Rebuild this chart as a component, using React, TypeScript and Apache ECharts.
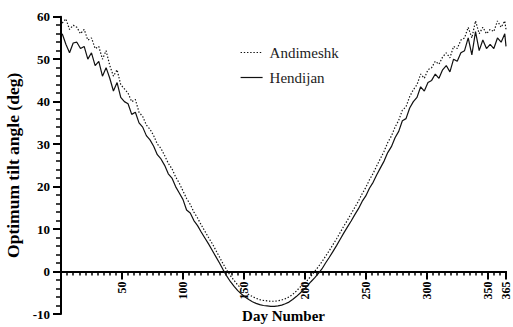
import React, { useEffect, useRef } from "react";
import * as echarts from "echarts";

const days = [
  1, 4, 7, 10, 13, 16, 19, 22, 25, 28, 31, 34, 37, 40, 43, 46, 49, 52, 55, 58,
  61, 64, 67, 70, 73, 76, 79, 82, 85, 88, 91, 94, 97, 100, 103, 106, 109, 112, 115, 118,
  121, 124, 127, 130, 133, 136, 139, 142, 145, 148, 151, 154, 157, 160, 163, 166, 169, 172, 175, 178,
  181, 184, 187, 190, 193, 196, 199, 202, 205, 208, 211, 214, 217, 220, 223, 226, 229, 232, 235, 238,
  241, 244, 247, 250, 253, 256, 259, 262, 265, 268, 271, 274, 277, 280, 283, 286, 289, 292, 295, 298,
  301, 304, 307, 310, 313, 316, 319, 322, 325, 328, 331, 334, 337, 340, 343, 346, 349, 352, 355, 358,
  361, 364, 365,
];

const andimeshk = [
  58.5, 59.5, 57.0, 58.0, 57.5, 56.0, 57.0, 54.5, 55.0, 52.5, 53.0, 50.0, 52.0, 48.5, 46.0, 47.5, 44.0, 43.0, 42.0, 40.0,
  40.5, 37.5, 36.5, 34.5, 33.5, 32.0, 30.0, 29.0, 27.3, 25.5, 24.2, 22.3, 20.8, 19.0, 17.2, 15.8, 14.0, 12.6, 11.0, 9.5,
  8.0, 6.6, 5.0, 3.4, 1.8, 0.3, -1.0, -2.1, -3.2, -4.0, -4.8, -5.4, -5.9, -6.3, -6.6, -6.8, -6.9, -7.0, -7.0, -6.9,
  -6.7, -6.4, -6.0, -5.4, -4.6, -3.7, -3.0, -2.1, -1.1, 0.0, 1.1, 2.3, 3.6, 4.9, 6.3, 7.7, 9.2, 10.7, 12.1, 13.6,
  15.1, 16.6, 18.3, 19.8, 21.6, 23.1, 24.9, 26.6, 28.3, 30.4, 31.9, 34.0, 35.6, 38.0, 38.8, 41.2, 42.8, 44.0, 46.5, 45.5,
  47.5, 48.0, 49.5, 48.8, 50.5, 51.5, 50.3, 53.0, 52.5, 54.5, 55.0, 57.5, 55.0, 59.0, 56.0, 57.5, 56.0, 57.0, 56.5, 59.0,
  57.5, 59.0, 57.0,
];

const hendijan = [
  56.0, 53.5, 51.5, 53.8, 54.0, 52.5, 53.0, 50.0, 51.5, 48.5, 49.5, 46.0, 48.0, 45.5, 42.5, 44.5, 41.0, 40.0, 39.5, 37.0,
  37.5, 35.0, 34.0, 32.0, 31.0, 29.5, 27.5, 26.5, 25.0, 23.0, 22.0, 20.0, 18.5, 17.0, 14.5, 13.8, 12.0, 10.8, 9.3, 7.9,
  6.5, 5.0, 3.5, 2.0, 0.4, -1.1, -2.4, -3.5, -4.5, -5.3, -6.0, -6.6, -7.1, -7.5, -7.8, -8.0, -8.1, -8.2, -8.2, -8.1,
  -7.9, -7.6, -7.2, -6.6, -5.9, -5.1, -4.3, -3.4, -2.4, -1.5, -0.5, 0.6, 2.0, 3.3, 4.7, 6.1, 7.6, 9.1, 10.5, 11.9,
  13.4, 14.8, 16.5, 17.8, 19.6, 21.0, 22.8, 24.4, 26.0, 28.0, 29.4, 31.5, 33.0, 35.5, 36.0, 38.5, 40.0, 41.0, 43.5, 42.5,
  44.5, 45.0, 46.5, 45.5, 47.5, 48.5, 47.0, 50.0, 49.5, 51.5, 52.0, 55.0, 51.0, 56.5, 52.0, 54.5, 52.5, 53.5, 52.5, 55.0,
  54.0, 56.0, 53.0,
];

const seriesNames = ["Andimeshk", "Hendijan"];
const xMin = 0;
const xMax = 365;
const xMajor = 50;
const xMinor = 5;
const yMin = -10;
const yMax = 60;
const yMajor = 10;

const FONT = "Liberation Serif";

export default function App() {
  const ref = useRef<HTMLDivElement>(null);
  useEffect(() => {
    if (!ref.current) return;
    const chart = echarts.init(ref.current, undefined, { renderer: "svg" });
    const pair = (vals: number[]) => days.map((d, i) => [d, vals[i]]);
    const axisColor = "#000";
    const plotTop = 16.7;
    const plotBottom = 13;
    // bottom offset of the zero line: y=0 sits 10/70 of the plot height above the bottom
    const plotH = 327 - plotTop - plotBottom;
    const zeroBottom = plotBottom + (plotH * (0 - yMin)) / (yMax - yMin);
    chart.setOption({
      animation: false,
      backgroundColor: "#fff",
      textStyle: { fontFamily: FONT },
      grid: [
        {
          left: 61,
          right: 7,
          top: plotTop,
          bottom: plotBottom,
          containLabel: false,
          outerBoundsMode: "none",
        },
        {
          left: 61,
          right: 7,
          top: plotTop,
          bottom: zeroBottom,
          containLabel: false,
          outerBoundsMode: "none",
        },
      ],
      legend: {
        orient: "vertical",
        left: 235,
        top: 40,
        itemWidth: 22,
        itemHeight: 10,
        itemGap: 10,
        itemStyle: { opacity: 0 },
        lineStyle: { width: 1.2 },
        textStyle: { fontFamily: FONT, fontSize: 15, color: "#222", padding: [0, 0, 0, 2] },
        data: seriesNames,
      },
      xAxis: [
        {
          type: "value",
          gridIndex: 0,
          min: xMin,
          max: xMax,
          show: false,
        },
        {
          type: "value",
          gridIndex: 1,
          min: xMin,
          max: xMax,
          interval: xMajor,
          position: "bottom",
          axisLine: { onZero: false, lineStyle: { color: axisColor, width: 2 } },
          axisTick: { show: true, length: 8, lineStyle: { color: axisColor, width: 2 } },
          axisLabel: {
            rotate: 90,
            margin: 10,
            fontFamily: FONT,
            fontWeight: "bold",
            fontSize: 12,
            color: "#000",
            formatter: (v: number) => (v === 0 ? "" : String(v)),
          },
          splitLine: { show: false },
          name: "Day Number",
          nameLocation: "middle",
          nameGap: 37,
          nameTextStyle: { fontFamily: FONT, fontWeight: "bold", fontSize: 15, color: "#000" },
        },
        {
          type: "value",
          gridIndex: 1,
          min: xMin,
          max: xMax,
          interval: xMinor,
          position: "bottom",
          axisLine: { onZero: false, lineStyle: { color: axisColor, width: 2 } },
          axisTick: { show: true, length: 4, lineStyle: { color: axisColor, width: 1.5 } },
          axisLabel: { show: false },
          splitLine: { show: false },
        },
      ],
      yAxis: [
        {
          type: "value",
          gridIndex: 0,
          min: yMin,
          max: yMax,
          interval: yMajor,
          axisLine: { show: true, onZero: false, lineStyle: { color: axisColor, width: 2 } },
          axisTick: { show: true, length: 8, lineStyle: { color: axisColor, width: 2 } },
          minorTick: { show: true, splitNumber: 5, length: 5, lineStyle: { color: axisColor, width: 1.5 } },
          axisLabel: {
            margin: 11,
            fontFamily: FONT,
            fontWeight: "bold",
            fontSize: 13,
            color: "#000",
          },
          splitLine: { show: false },
          name: "Optimum tilt angle (deg)",
          nameLocation: "middle",
          nameGap: 36,
          nameTextStyle: { fontFamily: FONT, fontWeight: "bold", fontSize: 17.5, color: "#000" },
        },
        {
          type: "value",
          gridIndex: 1,
          min: 0,
          max: yMax,
          show: false,
        },
      ],
      series: [
        {
          name: seriesNames[0],
          type: "line",
          xAxisIndex: 0,
          yAxisIndex: 0,
          data: pair(andimeshk),
          symbol: "none",
          lineStyle: { color: "#111", width: 1.2, type: [1.4, 1.8] },
          itemStyle: { color: "#111" },
        },
        {
          name: seriesNames[1],
          type: "line",
          xAxisIndex: 0,
          yAxisIndex: 0,
          data: pair(hendijan),
          symbol: "none",
          lineStyle: { color: "#111", width: 1.2, type: "solid" },
          itemStyle: { color: "#111" },
        },
      ],
    });
    return () => chart.dispose();
  }, []);
  return (
    <div
      ref={ref}
      style={{ position: "fixed", left: 0, top: 0, width: 513, height: 327 }}
    />
  );
}
